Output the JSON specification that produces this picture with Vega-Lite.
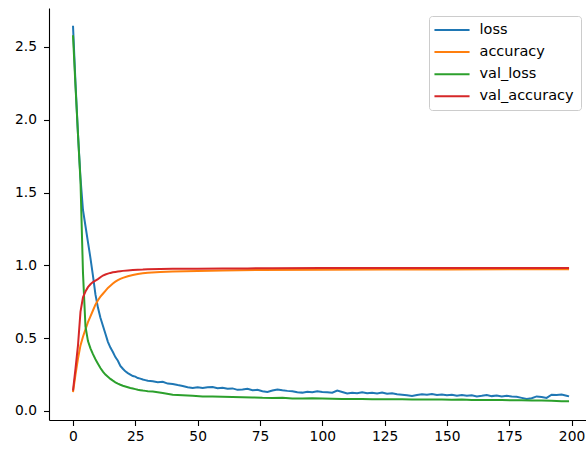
{
"$schema": "https://vega.github.io/schema/vega-lite/v6.json",
"width": 537, "height": 412,
"autosize": {"type": "none"},
"padding": {"left": 49, "top": 8, "right": 0, "bottom": 29},
"background": "white",
"config": {"view": {"stroke": null}, "font": "DejaVu Sans"},
"datasets": {
"loss": [{"e":0,"v":2.645},{"e":1,"v":2.25},{"e":2,"v":1.9},{"e":3,"v":1.6},{"e":4,"v":1.38},{"e":5,"v":1.27},{"e":6,"v":1.16},{"e":7,"v":1.05},{"e":8,"v":0.93},{"e":9,"v":0.8},{"e":10,"v":0.71},{"e":11,"v":0.64},{"e":12,"v":0.585},{"e":13,"v":0.53},{"e":14,"v":0.475},{"e":15,"v":0.435},{"e":16,"v":0.405},{"e":17,"v":0.37},{"e":18,"v":0.345},{"e":19,"v":0.31},{"e":20,"v":0.29},{"e":21,"v":0.272},{"e":22,"v":0.26},{"e":23,"v":0.25},{"e":24,"v":0.24},{"e":25,"v":0.236},{"e":26,"v":0.226},{"e":27,"v":0.222},{"e":28,"v":0.216},{"e":29,"v":0.212},{"e":30,"v":0.207},{"e":32,"v":0.204},{"e":34,"v":0.198},{"e":36,"v":0.2},{"e":38,"v":0.188},{"e":40,"v":0.185},{"e":42,"v":0.178},{"e":44,"v":0.172},{"e":46,"v":0.163},{"e":48,"v":0.158},{"e":50,"v":0.162},{"e":52,"v":0.158},{"e":54,"v":0.163},{"e":56,"v":0.165},{"e":58,"v":0.156},{"e":60,"v":0.16},{"e":62,"v":0.152},{"e":64,"v":0.155},{"e":66,"v":0.145},{"e":68,"v":0.148},{"e":70,"v":0.152},{"e":72,"v":0.142},{"e":74,"v":0.145},{"e":76,"v":0.135},{"e":78,"v":0.13},{"e":80,"v":0.14},{"e":82,"v":0.148},{"e":84,"v":0.142},{"e":86,"v":0.138},{"e":88,"v":0.135},{"e":90,"v":0.128},{"e":92,"v":0.126},{"e":94,"v":0.132},{"e":96,"v":0.128},{"e":98,"v":0.135},{"e":100,"v":0.13},{"e":102,"v":0.128},{"e":104,"v":0.125},{"e":106,"v":0.14},{"e":108,"v":0.13},{"e":110,"v":0.12},{"e":112,"v":0.125},{"e":114,"v":0.122},{"e":116,"v":0.128},{"e":118,"v":0.122},{"e":120,"v":0.125},{"e":122,"v":0.12},{"e":124,"v":0.126},{"e":126,"v":0.118},{"e":128,"v":0.122},{"e":130,"v":0.115},{"e":132,"v":0.112},{"e":134,"v":0.108},{"e":136,"v":0.103},{"e":138,"v":0.11},{"e":140,"v":0.114},{"e":142,"v":0.112},{"e":144,"v":0.116},{"e":146,"v":0.11},{"e":148,"v":0.113},{"e":150,"v":0.108},{"e":152,"v":0.112},{"e":154,"v":0.105},{"e":156,"v":0.11},{"e":158,"v":0.104},{"e":160,"v":0.108},{"e":162,"v":0.1},{"e":164,"v":0.104},{"e":166,"v":0.11},{"e":168,"v":0.102},{"e":170,"v":0.106},{"e":172,"v":0.1},{"e":174,"v":0.104},{"e":176,"v":0.1},{"e":178,"v":0.098},{"e":180,"v":0.09},{"e":182,"v":0.082},{"e":184,"v":0.088},{"e":186,"v":0.1},{"e":188,"v":0.096},{"e":190,"v":0.09},{"e":192,"v":0.112},{"e":194,"v":0.11},{"e":196,"v":0.113},{"e":198,"v":0.105},{"e":199,"v":0.1}],
"accuracy": [{"e":0,"v":0.13},{"e":1,"v":0.25},{"e":2,"v":0.36},{"e":3,"v":0.45},{"e":4,"v":0.51},{"e":5,"v":0.56},{"e":6,"v":0.61},{"e":7,"v":0.65},{"e":8,"v":0.69},{"e":9,"v":0.73},{"e":10,"v":0.76},{"e":11,"v":0.785},{"e":12,"v":0.805},{"e":13,"v":0.825},{"e":14,"v":0.845},{"e":15,"v":0.86},{"e":16,"v":0.875},{"e":17,"v":0.888},{"e":18,"v":0.898},{"e":19,"v":0.907},{"e":20,"v":0.914},{"e":22,"v":0.925},{"e":24,"v":0.933},{"e":26,"v":0.94},{"e":28,"v":0.945},{"e":30,"v":0.949},{"e":35,"v":0.954},{"e":40,"v":0.957},{"e":50,"v":0.961},{"e":60,"v":0.965},{"e":75,"v":0.968},{"e":100,"v":0.97},{"e":125,"v":0.971},{"e":150,"v":0.972},{"e":175,"v":0.973},{"e":199,"v":0.973}],
"val_loss": [{"e":0,"v":2.58},{"e":1,"v":2.23},{"e":2,"v":1.9},{"e":3,"v":1.58},{"e":4,"v":0.95},{"e":5,"v":0.58},{"e":6,"v":0.48},{"e":7,"v":0.43},{"e":8,"v":0.39},{"e":9,"v":0.355},{"e":10,"v":0.325},{"e":11,"v":0.295},{"e":12,"v":0.27},{"e":13,"v":0.25},{"e":14,"v":0.235},{"e":15,"v":0.22},{"e":16,"v":0.208},{"e":17,"v":0.197},{"e":18,"v":0.188},{"e":19,"v":0.18},{"e":20,"v":0.173},{"e":21,"v":0.168},{"e":22,"v":0.163},{"e":23,"v":0.158},{"e":24,"v":0.154},{"e":25,"v":0.15},{"e":26,"v":0.146},{"e":27,"v":0.143},{"e":28,"v":0.14},{"e":29,"v":0.138},{"e":30,"v":0.136},{"e":32,"v":0.134},{"e":36,"v":0.124},{"e":40,"v":0.112},{"e":44,"v":0.108},{"e":48,"v":0.104},{"e":52,"v":0.1},{"e":56,"v":0.1},{"e":60,"v":0.098},{"e":64,"v":0.096},{"e":68,"v":0.095},{"e":72,"v":0.093},{"e":76,"v":0.09},{"e":80,"v":0.089},{"e":84,"v":0.09},{"e":88,"v":0.086},{"e":92,"v":0.085},{"e":96,"v":0.087},{"e":100,"v":0.085},{"e":104,"v":0.084},{"e":108,"v":0.083},{"e":112,"v":0.082},{"e":116,"v":0.082},{"e":120,"v":0.081},{"e":124,"v":0.08},{"e":128,"v":0.081},{"e":132,"v":0.08},{"e":136,"v":0.079},{"e":140,"v":0.079},{"e":144,"v":0.078},{"e":148,"v":0.078},{"e":152,"v":0.077},{"e":156,"v":0.078},{"e":160,"v":0.076},{"e":164,"v":0.076},{"e":168,"v":0.075},{"e":172,"v":0.075},{"e":176,"v":0.074},{"e":180,"v":0.073},{"e":184,"v":0.072},{"e":188,"v":0.072},{"e":192,"v":0.07},{"e":196,"v":0.066},{"e":199,"v":0.067}],
"val_accuracy": [{"e":0,"v":0.14},{"e":1,"v":0.29},{"e":2,"v":0.45},{"e":3,"v":0.68},{"e":4,"v":0.78},{"e":5,"v":0.82},{"e":6,"v":0.85},{"e":7,"v":0.87},{"e":8,"v":0.885},{"e":9,"v":0.895},{"e":10,"v":0.905},{"e":11,"v":0.918},{"e":12,"v":0.93},{"e":13,"v":0.937},{"e":14,"v":0.943},{"e":15,"v":0.948},{"e":16,"v":0.952},{"e":17,"v":0.955},{"e":18,"v":0.958},{"e":19,"v":0.96},{"e":20,"v":0.962},{"e":22,"v":0.965},{"e":24,"v":0.968},{"e":26,"v":0.97},{"e":28,"v":0.971},{"e":30,"v":0.973},{"e":40,"v":0.976},{"e":50,"v":0.977},{"e":60,"v":0.978},{"e":70,"v":0.979},{"e":80,"v":0.98},{"e":100,"v":0.981},{"e":120,"v":0.981},{"e":140,"v":0.982},{"e":160,"v":0.982},{"e":180,"v":0.982},{"e":199,"v":0.982}]
},
"layer": [
{"data": {"name": "loss"}, "mark": {"type": "line", "strokeWidth": 2, "interpolate": "linear"},
 "encoding": {
  "x": {"field": "e", "type": "quantitative", "scale": {"domain": [-9.63, 205.8], "nice": false, "zero": false},
   "axis": {"values": [0,25,50,75,100,125,150,175,200], "title": null, "grid": false, "domainColor": "#000", "domainWidth": 1.1, "tickColor": "#000", "tickWidth": 1.1, "tickSize": 5.5, "labelFontSize": 13.8, "labelColor": "#000", "labelPadding": 4, "labelFont": "DejaVu Sans"}},
  "y": {"field": "v", "type": "quantitative", "scale": {"domain": [-0.062, 2.767], "nice": false, "zero": false},
   "axis": {"values": [0,0.5,1,1.5,2,2.5], "format": ".1f", "title": null, "grid": false, "domainColor": "#000", "domainWidth": 1.1, "tickColor": "#000", "tickWidth": 1.1, "tickSize": 5.5, "labelFontSize": 13.8, "labelColor": "#000", "labelPadding": 7, "labelFont": "DejaVu Sans"}},
  "color": {"datum": "loss", "type": "nominal",
   "scale": {"domain": ["loss","accuracy","val_loss","val_accuracy"], "range": ["#1f77b4","#ff7f0e","#2ca02c","#d62728"]},
   "legend": {"title": null, "orient": "none", "legendX": 380, "legendY": 8, "symbolType": "M-2.7,0H2.7", "symbolSize": 169, "symbolStrokeWidth": 2, "symbolOffset": 9, "labelFontSize": 14.5, "labelFont": "DejaVu Sans", "labelColor": "#000", "labelOffset": 20, "rowPadding": 7.1, "padding": 6.5, "fillColor": "white", "strokeColor": "#cccccc", "cornerRadius": 3}}
 }},
{"data": {"name": "accuracy"}, "mark": {"type": "line", "strokeWidth": 2},
 "encoding": {"x": {"field": "e", "type": "quantitative"}, "y": {"field": "v", "type": "quantitative"}, "color": {"datum": "accuracy", "type": "nominal"}}},
{"data": {"name": "val_loss"}, "mark": {"type": "line", "strokeWidth": 2},
 "encoding": {"x": {"field": "e", "type": "quantitative"}, "y": {"field": "v", "type": "quantitative"}, "color": {"datum": "val_loss", "type": "nominal"}}},
{"data": {"name": "val_accuracy"}, "mark": {"type": "line", "strokeWidth": 2},
 "encoding": {"x": {"field": "e", "type": "quantitative"}, "y": {"field": "v", "type": "quantitative"}, "color": {"datum": "val_accuracy", "type": "nominal"}}},
{"mark": {"type": "rule", "color": "#000", "strokeWidth": 1.1},
 "encoding": {"y": {"datum": 2.767}}}
]
}
